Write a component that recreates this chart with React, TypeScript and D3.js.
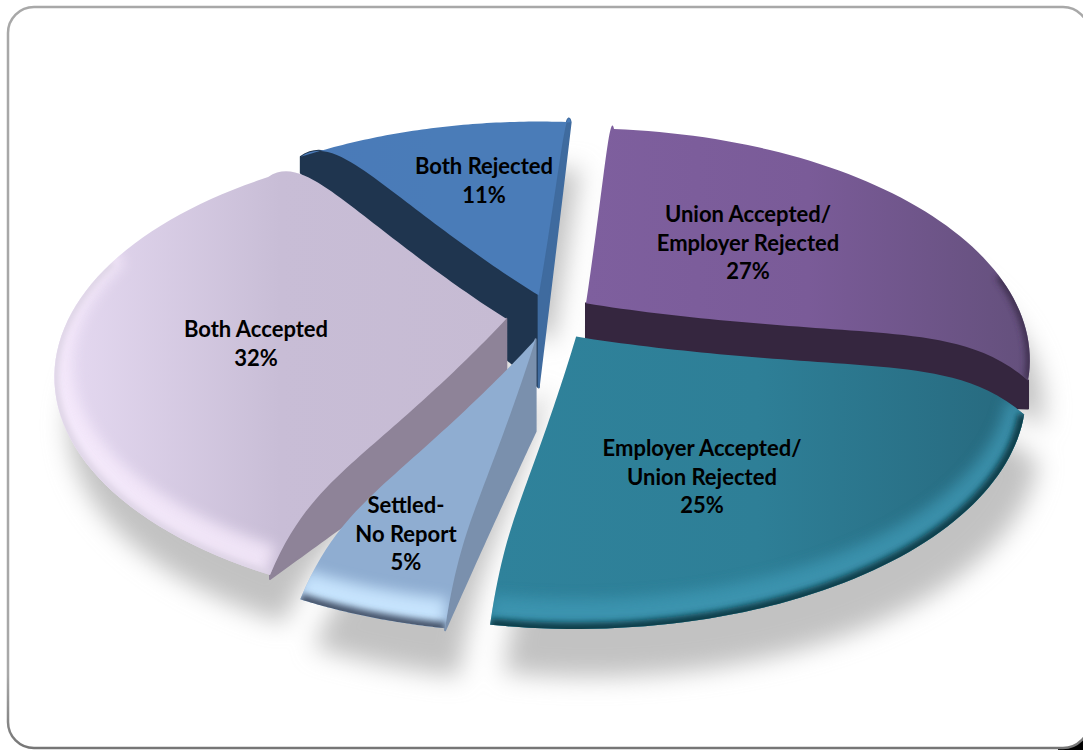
import React from 'react';
import * as d3 from 'd3';

const categories = ['Union Accepted/\nEmployer Rejected', 'Employer Accepted/\nUnion Rejected', 'Settled-\nNo Report', 'Both Accepted', 'Both Rejected'];
const shares = [27, 25, 5, 32, 11];

const labelCentres = [[748, 243], [702, 477], [406, 534], [256, 344], [484, 181]];
const faceStops = [
  ['#7e5f9e', '#7a5b98', '#64507c'],
  ['#2f829b', '#2e7f97', '#27697e'],
  ['#8fadd1', '#8fadd1', '#8fadd1'],
  ['#e6daf2', '#c8bdd6', '#c6bbd3'],
  ['#4a7ab8', '#4a7cb8', '#4a7cb8'],
];
const rimGlow = ['none', '#3f9ab6', '#c9e6ff', '#f8ecfd', 'none'];
const glowOpacity = [0, 0.75, 0.95, 0.8, 0];
const rimShade = ['#3d2e4d', '#0f3c4a', '#46546c', '#dcd3e4', '#3d6594'];
const rimShadeWidth = [8, 13, 12, 8, 8];
const walls = [
  { slice: 4, edge: 'start', fill: '#1f354f', rim: 16 },
  { slice: 4, edge: 'end', fill: '#3f6b9f', rim: 0 },
  { slice: 0, edge: 'end', fill: '#35263f', rim: 28 },
  { slice: 3, edge: 'start', fill: '#8e8398', rim: 4 },
  { slice: 2, edge: 'start', fill: '#7a90ad', rim: 2 },
];
// Back slices first, so the near ones overlap their walls.
const paintOrder = [4, 0, 3, 1, 2];

const EXPLODE = 0.1;
const DOME = 45;
const WALL = 92;
const APEX_RISE = [-5, -34];
// Homography from the pie's plane (radius 1) to the page.
const PLANE = [450.13, -80.65, 555.92, 17.71, 197.49, 351.3, 0.00836, -0.09357];
const TAU = Math.PI * 2;
const deg = (a: number) => (a * Math.PI) / 180;

const arcs = d3.pie<number>().sort(null).startAngle(0).endAngle(TAU)(shares);
const mid = (i: number) => (arcs[i].startAngle + arcs[i].endAngle) / 2;
const planePoint = (i: number, a: number, t: number) => [
  EXPLODE * Math.sin(mid(i)) + t * Math.sin(a),
  -EXPLODE * Math.cos(mid(i)) - t * Math.cos(a),
];

const den = (u: number, v: number) => 1 + PLANE[6] * u + PLANE[7] * v;
const toScreen = (u: number, v: number) => [
  (PLANE[0] * u + PLANE[1] * v + PLANE[2]) / den(u, v),
  (PLANE[3] * u + PLANE[4] * v + PLANE[5]) / den(u, v),
];
// The top surface crowns towards the middle and rolls off at the rim.
const domeLift = (t: number) => Math.pow(t, 1.6) * (1 - Math.pow(t, 7));

const onSurface = (i: number, a: number, t: number) => {
  const [u, v] = planePoint(i, a, t);
  const [x, y] = toScreen(u, v);
  return [x + APEX_RISE[0] * (1 - t), y + APEX_RISE[1] * (1 - t) - (DOME / den(u, v)) * domeLift(t)];
};

const line = d3.line();
const steps = d3.range(0, 1.0001, 0.02);
const angleSteps = (a0: number, a1: number) => d3.range(0, 61).map((k) => a0 + ((a1 - a0) * k) / 60);

const rimPoints = (i: number, a0: number, a1: number) => angleSteps(a0, a1).map((a) => onSurface(i, a, 1));
const facePath = (i: number) => {
  const { startAngle: a0, endAngle: a1 } = arcs[i];
  const out = steps.map((t) => onSurface(i, a0, t));
  const back = steps.map((t) => onSurface(i, a1, t)).reverse();
  return line([...out, ...rimPoints(i, a0, a1), ...back] as [number, number][]) + 'Z';
};
const nearRimPath = (i: number) => {
  const a0 = Math.max(arcs[i].startAngle, deg(70));
  const a1 = Math.min(arcs[i].endAngle, deg(290));
  if (a1 <= a0) return null;
  return line(rimPoints(i, a0, a1) as [number, number][]);
};
const wallPath = (w: (typeof walls)[number]) => {
  const a = w.edge === 'start' ? arcs[w.slice].startAngle : arcs[w.slice].endAngle;
  const upper = steps.map((t) => onSurface(w.slice, a, t));
  const lower = steps
    .map((t) => {
      const [u, v] = planePoint(w.slice, a, t);
      const [x, y] = toScreen(u, v);
      return [x + APEX_RISE[0] * (1 - t), y + (WALL + APEX_RISE[1]) * (1 - t) + w.rim * t];
    })
    .reverse();
  return line([...upper, ...lower] as [number, number][]) + 'Z';
};

const blur = (id: string, sd: number) => (
  <filter id={id} filterUnits="userSpaceOnUse" x={0} y={0} width={1083} height={750}>
    <feGaussianBlur stdDeviation={sd} />
  </filter>
);

export default function App() {
  return (
    <svg width={1083} height={750} style={{ position: 'absolute', left: 0, top: 0, display: 'block' }}>
      <defs>
        {blur('castBlur', 12)}
        {blur('glowBlur', 7)}
        {blur('edgeBlur', 3)}
        <linearGradient id="frameStroke" x1="0" x2="0" y1="0" y2="1">
          <stop offset={0} stopColor="#a8a8a8" />
          <stop offset={0.9} stopColor="#a8a8a8" />
          <stop offset={1} stopColor="#767676" />
        </linearGradient>
        {arcs.map((_, i) => (
          <React.Fragment key={i}>
            <linearGradient id={`face${i}`} x1="0" x2="1" y1="0" y2="0">
              {faceStops[i].map((c, k) => (
                <stop key={k} offset={k / 2} stopColor={c} />
              ))}
            </linearGradient>
            <clipPath id={`clip${i}`}>
              <path d={facePath(i)} />
            </clipPath>
          </React.Fragment>
        ))}
      </defs>

      <rect x={1058} y={728} width={25} height={22} fill="#000" />
      <rect x={8} y={7} width={1081} height={741} rx={26} fill="#fff" stroke="url(#frameStroke)" strokeWidth={2.5} />

      <g filter="url(#castBlur)" transform="translate(14,48)" fill="#c2c2c2">
        {arcs.map((_, i) => (
          <path key={i} d={facePath(i)} />
        ))}
      </g>

      {paintOrder.map((i) => (
        <g key={i}>
          {walls
            .filter((w) => w.slice === i)
            .map((w, k) => (
              <path key={k} d={wallPath(w)} fill={w.fill} stroke={w.fill} strokeWidth={2} strokeLinejoin="round" />
            ))}
          <path d={facePath(i)} fill={`url(#face${i})`} />
          <g clipPath={`url(#clip${i})`}>
            {rimGlow[i] !== 'none' && nearRimPath(i) && (
              <path d={nearRimPath(i)!} fill="none" stroke={rimGlow[i]} strokeWidth={36} opacity={glowOpacity[i]} filter="url(#glowBlur)" transform="translate(0,-12)" />
            )}
            {nearRimPath(i) && (
              <path d={nearRimPath(i)!} fill="none" stroke={rimShade[i]} strokeWidth={rimShadeWidth[i]} filter="url(#edgeBlur)" />
            )}
          </g>
        </g>
      ))}

      <g fontFamily="Lato, sans-serif" fontWeight={700} fontSize={22} textAnchor="middle" fill="#000">
        {categories.map((c, i) => {
          const lines = [...c.split('\n'), `${shares[i]}%`];
          return (
            <text key={i}>
              {lines.map((l, k) => (
                <tspan key={k} x={labelCentres[i][0]} y={labelCentres[i][1] + (k - (lines.length - 1) / 2) * 28.5 + 7.5}>
                  {l}
                </tspan>
              ))}
            </text>
          );
        })}
      </g>
    </svg>
  );
}
